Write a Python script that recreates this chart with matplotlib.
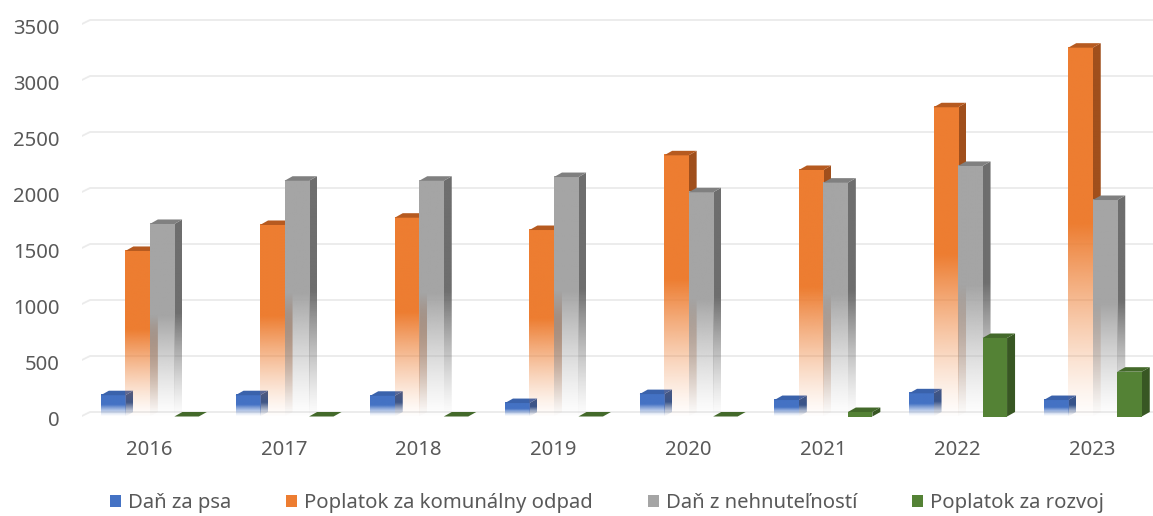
import numpy as np
import matplotlib
matplotlib.use("Agg")
import matplotlib.pyplot as plt
from matplotlib.patches import Polygon, Patch
from matplotlib.transforms import ScaledTranslation

# ---------------- data ----------------
years = ["2016", "2017", "2018", "2019", "2020", "2021", "2022", "2023"]
series_names = ["Daň za psa", "Poplatok za komunálny odpad",
                "Daň z nehnuteľností", "Poplatok za rozvoj"]
dan_za_psa = [190, 190, 185, 120, 200, 147, 207, 147]
poplatok_odpad = [1478, 1710, 1775, 1665, 2332, 2201, 2761, 3293]
dan_nehnutelnosti = [1719, 2105, 2105, 2138, 2002, 2088, 2237, 1933]
poplatok_rozvoj = [0, 0, 0, 0, 0, 40, 701, 400]
y_ticks = [0, 500, 1000, 1500, 2000, 2500, 3000, 3500]

series = [dan_za_psa, poplatok_odpad, dan_nehnutelnosti, poplatok_rozvoj]

# ---------------- style ----------------
front_cols = ["#4472C4", "#ED7D31", "#A5A5A5", "#548235"]
side_cols = ["#2F528F", "#A04F1C", "#6E6E6E", "#385723"]
top_cols = ["#3A62AB", "#B65A20", "#808080", "#43692A"]
fades = [True, True, True, False]
text_col = "#595959"
grid_col = "#EBEBEB"
FONT = ["Noto Sans", "DejaVu Sans"]
plt.rcParams["font.family"] = FONT
FS = 14.6

W_PX, H_PX = 1153, 516
fig = plt.figure(figsize=(W_PX / 100, H_PX / 100), dpi=100)

# geometry in pixels
ax_left, ax_right = 82, 1153
ax_top, ax_bot = 10, 420
zero_px = 412          # back-wall zero line
px_per_unit = 0.112
cat_px = 134.7

ax = fig.add_axes([ax_left / W_PX, (H_PX - ax_bot) / H_PX,
                   (ax_right - ax_left) / W_PX, (ax_bot - ax_top) / H_PX])
ylo = -(ax_bot - zero_px) / px_per_unit
yhi = (zero_px - ax_top) / px_per_unit
xlo = -0.5
xhi = xlo + (ax_right - ax_left) / cat_px

bw = 24.5 / cat_px        # bar width (data)
dx = 8.0 / cat_px         # depth shift x
dd = 4.5 / px_per_unit    # depth shift y (data units)

# gridlines on back wall with small perspective stub
for t in y_ticks:
    ax.plot([xlo - 2 / cat_px, xlo + 8 / cat_px, xhi], [t - dd * 1.1, t, t],
            color=grid_col, lw=1.3, zorder=0, solid_capstyle="butt")


def grad_rgba(color, n=256, fade=True):
    rgb = np.array(matplotlib.colors.to_rgb(color))
    t = np.linspace(0, 1, n)
    if fade:
        a = np.clip(0.03 + 0.97 * (t / 0.52), 0, 1) ** 1.3
    else:
        a = np.ones(n)
    arr = np.zeros((n, 1, 4))
    arr[:, 0, :3] = rgb
    arr[:, 0, 3] = a
    return arr


z = 2
for ci in range(len(years)):
    for si, vals in enumerate(series):
        v = vals[ci]
        x0 = ci - 2 * bw + si * bw + 0.5 / cat_px
        x1 = x0 + bw
        yb = -dd
        yt = v - dd
        # side face
        side_poly = [(x1, yb), (x1 + dx, 0), (x1 + dx, v), (x1, yt)]
        if v > 0:
            if fades[si]:
                im = ax.imshow(grad_rgba(side_cols[si], fade=True),
                               extent=[x1, x1 + dx, yb, v], origin="lower",
                               aspect="auto", interpolation="bilinear", zorder=z)
                clip = Polygon(side_poly, closed=True, transform=ax.transData)
                im.set_clip_path(clip)
            else:
                ax.add_patch(Polygon(side_poly, closed=True, facecolor=side_cols[si],
                                     edgecolor="none", zorder=z))
        z += 1
        # front face
        if v > 0:
            if fades[si]:
                ax.imshow(grad_rgba(front_cols[si], fade=True),
                          extent=[x0, x1, yb, yt], origin="lower",
                          aspect="auto", interpolation="bilinear", zorder=z)
            else:
                ax.add_patch(Polygon([(x0, yb), (x1, yb), (x1, yt), (x0, yt)],
                                     closed=True, facecolor=front_cols[si],
                                     edgecolor="none", zorder=z))
        z += 1
        # top face
        top_poly = [(x0, yt), (x1, yt), (x1 + dx, v), (x0 + dx, v)]
        ax.add_patch(Polygon(top_poly, closed=True, facecolor=top_cols[si],
                             edgecolor="none", zorder=z))
        z += 1

ax.set_xlim(xlo, xhi)
ax.set_ylim(ylo, yhi)
for s in ax.spines.values():
    s.set_visible(False)
ax.set_yticks(y_ticks)
ax.set_yticklabels([str(t) for t in y_ticks])
ax.set_xticks(range(len(years)))
ax.set_xticklabels(years)
ax.tick_params(axis="both", length=0, colors=text_col, labelsize=FS)
ax.tick_params(axis="y", pad=16)
ax.tick_params(axis="x", pad=14.5)
off = ScaledTranslation(0, -6 / 100, fig.dpi_scale_trans)
for lab in ax.get_yticklabels():
    lab.set_transform(lab.get_transform() + off)

handles = [Patch(facecolor=c, edgecolor="none") for c in front_cols]
leg = fig.legend(handles, series_names, loc="center",
                 bbox_to_anchor=(607 / W_PX, 1 - 503 / H_PX), ncol=4,
                 frameon=False, fontsize=FS, handlelength=0.55, handleheight=0.55,
                 handletextpad=0.35, columnspacing=2.7, borderpad=0)
for txt in leg.get_texts():
    txt.set_color(text_col)

fig.savefig("out.png", dpi=100)
